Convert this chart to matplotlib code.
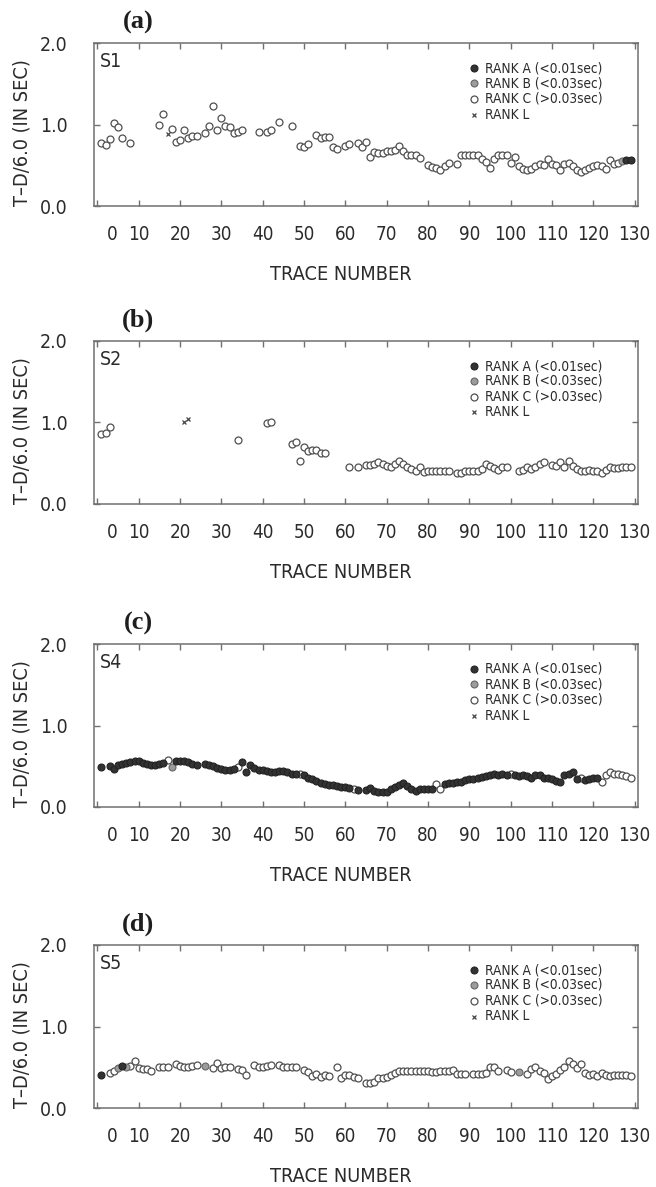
import matplotlib
matplotlib.use("Agg")
import matplotlib.pyplot as plt

plt.rcParams['font.family'] = ['DejaVu Sans']
plt.rcParams['font.stretch'] = 'condensed'

# ---------------- data ----------------
# Station S1
s1_trace = [1, 2, 3, 4, 5, 6, 8, 15, 16, 17, 18, 19, 20, 21, 22, 23, 24, 26, 27, 28,
            29, 30, 31, 32, 33, 34, 35, 39, 41, 42, 44, 47, 49, 50, 51, 53, 54, 55, 56, 57,
            58, 60, 61, 63, 64, 65, 66, 67, 68, 69, 70, 71, 72, 73, 74, 75, 76, 77, 78, 80,
            81, 82, 83, 84, 85, 87, 88, 89, 90, 91, 92, 93, 94, 95, 96, 97, 98, 99, 100, 101,
            102, 103, 104, 105, 106, 107, 108, 109, 110, 111, 112, 113, 114, 115, 116, 117, 118, 119, 120, 121,
            122, 123, 124, 125, 126, 127, 128, 129]
s1_value = [0.77, 0.75, 0.82, 1.02, 0.97, 0.84, 0.77, 1.00, 1.13, 0.88, 0.94, 0.79, 0.81, 0.93, 0.83, 0.86, 0.86, 0.90, 0.98, 1.23,
            0.93, 1.08, 0.98, 0.97, 0.90, 0.91, 0.93, 0.91, 0.91, 0.93, 1.03, 0.98, 0.74, 0.72, 0.76, 0.87, 0.84, 0.85, 0.85, 0.72,
            0.70, 0.74, 0.76, 0.77, 0.72, 0.78, 0.60, 0.66, 0.65, 0.65, 0.67, 0.68, 0.69, 0.74, 0.68, 0.63, 0.63, 0.62, 0.59, 0.50,
            0.48, 0.47, 0.44, 0.49, 0.53, 0.52, 0.62, 0.63, 0.63, 0.63, 0.62, 0.58, 0.54, 0.47, 0.58, 0.63, 0.63, 0.62, 0.53, 0.60,
            0.49, 0.46, 0.44, 0.46, 0.49, 0.51, 0.50, 0.58, 0.51, 0.50, 0.44, 0.51, 0.53, 0.49, 0.44, 0.42, 0.44, 0.47, 0.49, 0.50,
            0.49, 0.46, 0.56, 0.52, 0.53, 0.55, 0.56, 0.56]
s1_rank_default = 'C'
s1_rank_other = {17: 'L', 127: 'B', 128: 'A', 129: 'A'}

# Station S2
s2_trace = [1, 2, 3, 21, 22, 34, 41, 42, 47, 48, 49, 50, 51, 52, 53, 54, 55, 61, 63, 65,
            66, 67, 68, 69, 70, 71, 72, 73, 74, 75, 76, 77, 78, 79, 80, 81, 82, 83, 84, 85,
            87, 88, 89, 90, 91, 92, 93, 94, 95, 96, 97, 98, 99, 102, 103, 104, 105, 106, 107, 108,
            110, 111, 112, 113, 114, 115, 116, 117, 118, 119, 120, 121, 122, 123, 124, 125, 126, 127, 128, 129]
s2_value = [0.86, 0.87, 0.95, 1.01, 1.04, 0.78, 0.99, 1.00, 0.74, 0.76, 0.53, 0.70, 0.65, 0.66, 0.66, 0.62, 0.63, 0.45, 0.46, 0.48,
            0.48, 0.49, 0.51, 0.49, 0.47, 0.46, 0.49, 0.53, 0.49, 0.45, 0.43, 0.41, 0.45, 0.39, 0.41, 0.41, 0.41, 0.41, 0.41, 0.41,
            0.38, 0.38, 0.40, 0.41, 0.41, 0.41, 0.43, 0.49, 0.47, 0.44, 0.42, 0.46, 0.45, 0.41, 0.42, 0.46, 0.43, 0.46, 0.49, 0.51,
            0.48, 0.47, 0.51, 0.46, 0.53, 0.47, 0.43, 0.40, 0.41, 0.42, 0.41, 0.40, 0.38, 0.42, 0.46, 0.44, 0.44, 0.45, 0.45, 0.45]
s2_rank_default = 'C'
s2_rank_other = {21: 'L', 22: 'L'}

# Station S4
s4_trace = [1, 3, 4, 5, 6, 7, 8, 9, 10, 11, 12, 13, 14, 15, 16, 17, 18, 19, 20, 21,
            22, 23, 24, 26, 27, 28, 29, 30, 31, 32, 33, 34, 35, 36, 37, 38, 39, 40, 41, 42,
            43, 44, 45, 46, 47, 48, 49, 50, 51, 52, 53, 54, 55, 56, 57, 58, 59, 60, 61, 62,
            63, 65, 66, 67, 68, 69, 70, 71, 72, 73, 74, 75, 76, 77, 78, 79, 80, 81, 82, 83,
            84, 85, 86, 87, 88, 89, 90, 91, 92, 93, 94, 95, 96, 97, 98, 99, 100, 101, 102, 103,
            104, 105, 106, 107, 108, 109, 110, 111, 112, 113, 114, 115, 116, 117, 118, 119, 120, 121, 122, 123,
            124, 125, 126, 127, 128, 129]
s4_value = [0.49, 0.50, 0.47, 0.52, 0.53, 0.54, 0.55, 0.57, 0.56, 0.54, 0.53, 0.51, 0.52, 0.53, 0.54, 0.58, 0.49, 0.57, 0.56, 0.56,
            0.55, 0.53, 0.52, 0.53, 0.52, 0.50, 0.48, 0.47, 0.46, 0.46, 0.47, 0.49, 0.55, 0.43, 0.51, 0.48, 0.46, 0.45, 0.44, 0.43,
            0.43, 0.44, 0.44, 0.43, 0.41, 0.40, 0.41, 0.39, 0.36, 0.34, 0.32, 0.30, 0.28, 0.27, 0.27, 0.26, 0.25, 0.24, 0.23, 0.22,
            0.21, 0.21, 0.23, 0.20, 0.19, 0.19, 0.19, 0.22, 0.25, 0.27, 0.29, 0.26, 0.22, 0.20, 0.22, 0.22, 0.22, 0.22, 0.28, 0.22,
            0.28, 0.30, 0.30, 0.31, 0.31, 0.33, 0.34, 0.34, 0.35, 0.37, 0.38, 0.39, 0.40, 0.39, 0.41, 0.39, 0.41, 0.39, 0.38, 0.39,
            0.38, 0.36, 0.39, 0.39, 0.35, 0.35, 0.34, 0.32, 0.31, 0.39, 0.41, 0.43, 0.34, 0.36, 0.33, 0.34, 0.35, 0.36, 0.31, 0.39,
            0.43, 0.41, 0.40, 0.39, 0.38, 0.36]
s4_rank_default = 'A'
s4_rank_other = {17: 'C', 18: 'B', 34: 'C', 49: 'C', 62: 'C', 82: 'C', 83: 'C', 100: 'C', 117: 'C',
                 122: 'C', 123: 'C', 124: 'C', 125: 'C', 126: 'C', 127: 'C', 128: 'C', 129: 'C'}

# Station S5
s5_trace = [1, 3, 4, 5, 6, 7, 8, 9, 10, 11, 12, 13, 15, 16, 17, 19, 20, 21, 22, 23,
            24, 26, 28, 29, 30, 31, 32, 34, 35, 36, 38, 39, 40, 41, 42, 44, 45, 46, 47, 48,
            50, 51, 52, 53, 54, 55, 56, 58, 59, 60, 61, 62, 63, 65, 66, 67, 68, 69, 70, 71,
            72, 73, 74, 75, 76, 77, 78, 79, 80, 81, 82, 83, 84, 85, 86, 87, 88, 89, 91, 92,
            93, 94, 95, 96, 97, 99, 100, 102, 104, 105, 106, 107, 108, 109, 110, 111, 112, 113, 114, 115,
            116, 117, 118, 119, 120, 121, 122, 123, 124, 125, 126, 127, 128, 129]
s5_value = [0.41, 0.43, 0.46, 0.49, 0.51, 0.50, 0.51, 0.58, 0.49, 0.48, 0.48, 0.46, 0.50, 0.50, 0.50, 0.54, 0.51, 0.50, 0.50, 0.51,
            0.53, 0.51, 0.49, 0.55, 0.49, 0.50, 0.50, 0.48, 0.47, 0.41, 0.53, 0.50, 0.50, 0.51, 0.53, 0.53, 0.50, 0.50, 0.50, 0.50,
            0.47, 0.44, 0.39, 0.42, 0.38, 0.40, 0.39, 0.50, 0.37, 0.40, 0.41, 0.38, 0.37, 0.31, 0.31, 0.32, 0.37, 0.37, 0.38, 0.41,
            0.43, 0.46, 0.46, 0.46, 0.45, 0.45, 0.45, 0.45, 0.46, 0.44, 0.44, 0.45, 0.45, 0.46, 0.47, 0.42, 0.42, 0.42, 0.42, 0.42,
            0.42, 0.43, 0.50, 0.50, 0.46, 0.47, 0.44, 0.44, 0.42, 0.48, 0.50, 0.46, 0.43, 0.36, 0.39, 0.42, 0.47, 0.50, 0.58, 0.54,
            0.49, 0.54, 0.43, 0.41, 0.42, 0.39, 0.43, 0.40, 0.39, 0.41, 0.41, 0.41, 0.41, 0.39]
s5_rank_default = 'C'
s5_rank_other = {1: 'A', 5: 'B', 6: 'A', 7: 'B', 26: 'B', 102: 'B'}

panel_letters = ['(a)', '(b)', '(c)', '(d)']
station_names = ['S1', 'S2', 'S4', 'S5']
rank_labels = ['RANK A (<0.01sec)', 'RANK B (<0.03sec)', 'RANK C (>0.03sec)', 'RANK L']
x_ticks = list(range(0, 131, 10))
y_ticks = [0.0, 1.0, 2.0]

# ---------------- styling ----------------
TEXT = '#2b2b2b'
SPINE = '#707070'
rank_style = {
    'A': dict(marker='o', ms=5.0, mfc='#333333', mec='#222222', mew=0.8, ls='none'),
    'B': dict(marker='o', ms=5.0, mfc='#9c9c9c', mec='#666666', mew=0.8, ls='none'),
    'C': dict(marker='o', ms=5.0, mfc='white', mec='#505050', mew=0.9, ls='none'),
    'L': dict(marker='x', ms=3.4, mfc='none', mec='#444444', mew=0.9, ls='none'),
}

fig = plt.figure(figsize=(6.56, 11.87), dpi=100)
W, H = 656.0, 1187.0
ax_left, ax_right = 94, 638
ax_tops = [43, 341, 644, 945]
ax_height = 163

panels = [
    (s1_trace, s1_value, s1_rank_default, s1_rank_other),
    (s2_trace, s2_value, s2_rank_default, s2_rank_other),
    (s4_trace, s4_value, s4_rank_default, s4_rank_other),
    (s5_trace, s5_value, s5_rank_default, s5_rank_other),
]

for i, (trace, value, rank_default, rank_other) in enumerate(panels):
    top = ax_tops[i]
    ax = fig.add_axes([ax_left / W, 1 - (top + ax_height) / H,
                       (ax_right - ax_left) / W, ax_height / H])
    ranks = [rank_other.get(t, rank_default) for t in trace]
    for r in ['C', 'B', 'A', 'L']:
        xs = [t for t, rk in zip(trace, ranks) if rk == r]
        ys = [v for v, rk in zip(value, ranks) if rk == r]
        if xs:
            ax.plot(xs, ys, **rank_style[r], zorder=3)

    ax.set_xlim(-0.8, 130.8)
    ax.set_ylim(0, 2.0)
    for sp in ax.spines.values():
        sp.set_color(SPINE)
        sp.set_linewidth(1.1)

    ax.set_xticks(x_ticks)
    ax.set_xticklabels([''] + [str(t) for t in x_ticks[1:]])
    # the zero label sits a little to the right of its tick
    ax.set_xticks([3.5], minor=True)
    ax.set_xticklabels(['0'], minor=True)
    ax.set_yticks(y_ticks)
    ax.set_yticklabels(['%.1f' % v for v in y_ticks])
    ax.tick_params(axis='x', which='both', direction='in', top=True, bottom=True,
                   pad=14, labelsize=13.5, labelcolor=TEXT, color=SPINE)
    ax.tick_params(axis='x', which='major', length=4, width=1.0)
    ax.tick_params(axis='x', which='minor', length=0)
    ax.tick_params(axis='y', direction='in', left=True, right=True, length=4, width=1.0,
                   pad=19, labelsize=14, labelcolor=TEXT, color=SPINE)

    ax.set_xlabel('TRACE NUMBER', fontsize=14.3, color=TEXT, labelpad=15, x=0.454)
    ax.set_ylabel('T\u2013D/6.0 (IN SEC)', fontsize=14.3, color=TEXT, labelpad=6, y=0.45)

    ax.text(0.081, 1 + 21 / ax_height, panel_letters[i], transform=ax.transAxes,
            ha='center', va='center', fontsize=19, fontweight='bold',
            family='Liberation Serif', color='#1e1e1e')
    ax.text(0.011, 1 - 18.5 / ax_height, station_names[i], transform=ax.transAxes,
            ha='left', va='center', fontsize=14, color=TEXT)

    # rank key
    key_rows = [1 - 25 / ax_height, 1 - 40 / ax_height, 1 - 55.5 / ax_height, 1 - 71.5 / ax_height]
    for r, lab, yk in zip(['A', 'B', 'C', 'L'], rank_labels, key_rows):
        ax.plot([0.698], [yk], transform=ax.transAxes, clip_on=False, **rank_style[r])
        ax.text(0.719, yk, lab, transform=ax.transAxes, ha='left', va='center',
                fontsize=9.8, color=TEXT)

fig.savefig('out.png', dpi=100, facecolor='white')
